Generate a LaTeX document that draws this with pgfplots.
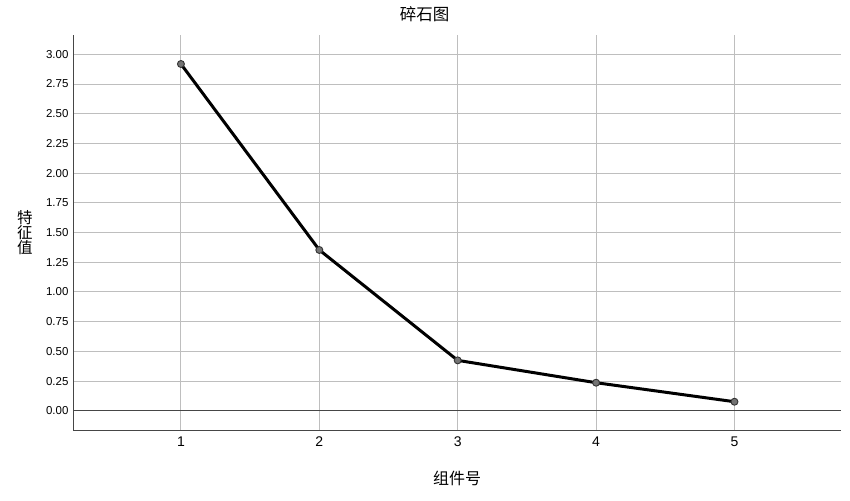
\documentclass[border=0pt]{standalone}
\usepackage{pgfplots}
\pgfplotsset{compat=1.18}
\usepackage{fontspec}
\setmainfont{Liberation Sans}
\newfontfamily\cjk{Noto Sans CJK SC}
\definecolor{gridc}{RGB}{190,190,190}
\definecolor{spine}{RGB}{70,70,70}
\definecolor{mk}{RGB}{115,115,115}
\begin{document}
\begin{tikzpicture}
\useasboundingbox (0,0) rectangle (850pt,-500pt);
\begin{axis}[
  at={(73pt,-430pt)}, anchor=south west,
  scale only axis, width=768pt, height=395pt,
  xmin=0.22, xmax=5.77, ymin=-0.162, ymax=3.162,
  axis x line*=bottom, axis y line*=left,
  axis line style={spine, line width=0.9pt, -},
  xtick={1,2,3,4,5},
  ytick={0,0.25,...,3.0},
  major tick length=0pt,
  grid=major,
  major grid style={gridc, line width=0.9pt},
  extra y ticks={0}, extra y tick labels={},
  extra y tick style={grid=major, major grid style={spine, line width=0.9pt}},
  /pgf/number format/assume math mode=true,
  yticklabel style={/pgf/number format/.cd, fixed, fixed zerofill, precision=2, /tikz/.cd, font=\fontsize{11.5}{13}\selectfont, xshift=-1pt},
  xticklabel style={font=\fontsize{14}{16}\selectfont, yshift=-3pt},
  title={碎石图},
  title style={font=\cjk\fontsize{16.5}{18}\selectfont, at={(axis description cs:0.458,1.038)}, anchor=center},
  xlabel={组件号},
  xlabel style={font=\cjk\fontsize{16}{18}\selectfont, at={(axis description cs:0.5,-0.122)}, anchor=center},
  ylabel={特\\征\\值},
  ylabel style={font=\cjk\fontsize{15.5}{15}\selectfont, align=center, rotate=-90, at={(axis description cs:-0.0625,0.5)}, anchor=center},
]
\addplot[black, line width=3pt, mark=*, mark size=3.5pt, mark options={fill=mk, draw=black!80, line width=0.9pt}]
  coordinates {(1,2.918) (2,1.353) (3,0.424) (4,0.236) (5,0.076)};
\end{axis}
\end{tikzpicture}
\end{document}
